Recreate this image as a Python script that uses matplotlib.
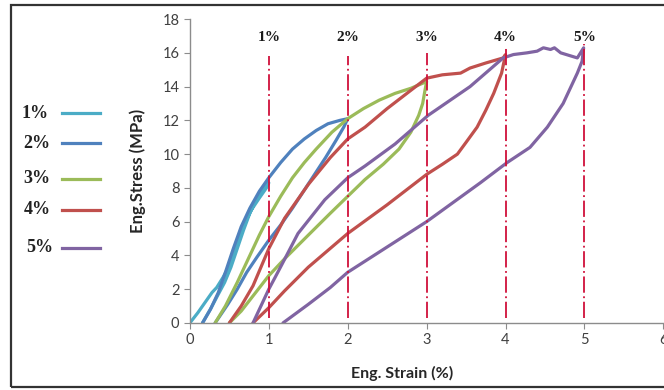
import matplotlib
matplotlib.use("Agg")
import matplotlib.pyplot as plt
from matplotlib.lines import Line2D
from matplotlib.patches import Rectangle

# ==== Data ====
cycle_labels = ["1%", "2%", "3%", "4%", "5%"]
colors = ["#4BACC6", "#4F81BD", "#9BBB59", "#C0504D", "#8064A2"]

# 1% cycle
strain_1 = [0.0, 0.1, 0.19, 0.28, 0.34, 0.42, 0.49, 0.56, 0.63, 0.7, 0.78, 0.88, 0.97, 1.0,
            0.92, 0.84, 0.76, 0.68, 0.6, 0.52, 0.44, 0.36, 0.27, 0.16]
stress_1 = [0.0, 0.6, 1.2, 1.8, 2.1, 2.7, 3.3, 4.2, 5.1, 6.0, 6.7, 7.4, 8.0, 8.3,
            7.9, 7.3, 6.5, 5.5, 4.4, 3.3, 2.4, 1.7, 0.9, 0.0]
# 2% cycle
strain_2 = [0.16, 0.26, 0.36, 0.45, 0.55, 0.65, 0.76, 0.88, 1.0, 1.15, 1.3, 1.45, 1.6, 1.75, 1.9, 2.0,
            1.95, 1.85, 1.72, 1.58, 1.44, 1.3, 1.15, 1.0, 0.85, 0.72, 0.6, 0.48, 0.32]
stress_2 = [0.0, 0.8, 1.8, 3.0, 4.4, 5.7, 6.8, 7.8, 8.6, 9.5, 10.3, 10.9, 11.4, 11.8, 12.0, 12.1,
            11.6, 10.8, 9.8, 8.8, 7.8, 6.8, 5.8, 4.9, 3.9, 3.0, 2.0, 1.1, 0.0]
# 3% cycle
strain_3 = [0.32, 0.45, 0.6, 0.75, 0.88, 1.0, 1.15, 1.3, 1.45, 1.6, 1.8, 2.0, 2.2, 2.4, 2.6, 2.8, 3.0,
            2.98, 2.95, 2.9, 2.8, 2.65, 2.45, 2.22, 2.0, 1.78, 1.5, 1.2, 1.0, 0.8, 0.65, 0.5]
stress_3 = [0.0, 1.0, 2.4, 3.9, 5.2, 6.3, 7.5, 8.6, 9.5, 10.3, 11.3, 12.1, 12.7, 13.2, 13.6, 13.9, 14.3,
            13.8, 13.0, 12.3, 11.3, 10.3, 9.4, 8.5, 7.5, 6.5, 5.2, 3.8, 2.8, 1.6, 0.7, 0.0]
# 4% cycle
strain_4 = [0.5, 0.65, 0.8, 0.9, 1.0, 1.2, 1.5, 1.78, 2.0, 2.22, 2.5, 2.75, 3.0, 3.2, 3.43, 3.55, 3.75, 3.97, 4.0,
            3.95, 3.85, 3.75, 3.64, 3.5, 3.39, 3.2, 3.0, 2.5, 2.0, 1.5, 1.2, 1.0, 0.8]
stress_4 = [0.0, 1.0, 2.2, 3.3, 4.4, 6.2, 8.2, 9.8, 10.9, 11.6, 12.7, 13.6, 14.5, 14.7, 14.8, 15.1, 15.4, 15.7, 15.9,
            14.8, 13.6, 12.6, 11.6, 10.7, 10.0, 9.4, 8.8, 7.0, 5.3, 3.3, 1.9, 0.9, 0.0]
# 5% cycle
strain_5 = [0.8, 0.9, 1.0, 1.08, 1.17, 1.37, 1.71, 2.0, 2.22, 2.6, 3.02, 3.55, 3.97, 4.1, 4.27, 4.4, 4.48,
            4.57, 4.62, 4.7, 4.91, 4.99,
            4.97, 4.91, 4.82, 4.73, 4.53, 4.31, 4.02, 3.68, 3.0, 2.5, 2.0, 1.78, 1.5, 1.18]
stress_5 = [0.0, 1.0, 2.0, 2.7, 3.5, 5.3, 7.3, 8.6, 9.3, 10.6, 12.3, 14.0, 15.7, 15.9, 16.0, 16.1, 16.3,
            16.2, 16.3, 16.0, 15.7, 16.3,
            15.5, 14.8, 13.9, 13.0, 11.6, 10.4, 9.5, 8.3, 6.0, 4.5, 3.0, 2.1, 1.1, 0.0]

strains = [strain_1, strain_2, strain_3, strain_4, strain_5]
stresses = [stress_1, stress_2, stress_3, stress_4, stress_5]

# vertical marker lines
marker_x = [1, 2, 3, 4, 5]
marker_top = [15.8, 15.8, 16.0, 16.4, 16.5]

# ==== Figure ====
fig = plt.figure(figsize=(6.64, 3.90), dpi=100)
ax = fig.add_axes([0.286, 0.172, 0.713, 0.779])

for sx, sy, c in zip(strains, stresses, colors):
    ax.plot(sx, sy, color=c, lw=2.3, solid_capstyle="round", solid_joinstyle="round")

for xm, top, lab in zip(marker_x, marker_top, cycle_labels):
    ax.vlines(xm, 0.3, top, colors="#D0103A", lw=1.3, linestyles=(0, (9, 2, 1, 2)))
    ax.text(xm, 16.9, lab, ha="center", va="center", fontsize=11, fontweight="bold",
            family="Liberation Serif", color="#1a1a1a")

ax.set_xlim(0, 6)
ax.set_ylim(0, 18)
ax.set_xticks(range(0, 7))
ax.set_yticks(range(0, 19, 2))
for s in ["top", "right"]:
    ax.spines[s].set_visible(False)
for s in ["left", "bottom"]:
    ax.spines[s].set_color("#8c8c8c")
    ax.spines[s].set_linewidth(1.0)
ax.tick_params(direction="out", length=4, color="#8c8c8c", labelsize=10.5, labelcolor="#404040")
for t in ax.get_xticklabels() + ax.get_yticklabels():
    t.set_family("Lato")

ax.set_xlabel("Eng. Strain (%)", fontsize=11.5, fontweight="bold", family="Lato", color="#262626")
ax.xaxis.set_label_coords(0.448, -0.14)
ax.set_ylabel("Eng.Stress (MPa)", fontsize=12, fontweight="bold", family="Lato", color="#262626")
ax.yaxis.set_label_coords(-0.092, 0.5)

# ==== Hand-placed legend on the left ====
legend_y = [113, 143, 179, 210, 248]
legend_tx = [22, 23, 23, 24, 26]
for lab, c, py, tx in zip(cycle_labels, colors, legend_y, legend_tx):
    yf = 1 - py / 390
    fig.text(tx / 664, yf, lab, ha="left", va="center", fontsize=13, fontweight="bold",
             family="Liberation Serif", color="#222222")
    fig.add_artist(Line2D([62 / 664, 100 / 664], [yf, yf], color=c, lw=2.3))

# ==== Frame ====
fig.add_artist(Rectangle((11 / 664, 3 / 390), 1.0, 1 - 8 / 390, transform=fig.transFigure,
                         fill=False, ec="#333333", lw=1.6))

fig.savefig("out.png", dpi=100)
